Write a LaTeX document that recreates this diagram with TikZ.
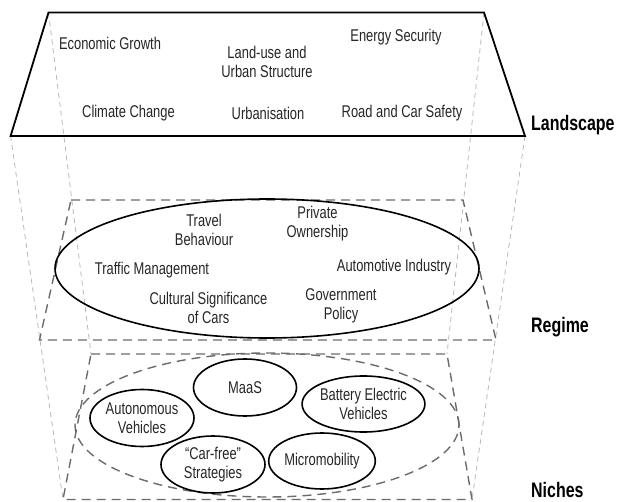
\documentclass[tikz,border=0pt]{standalone}
\usepackage{fontspec}
\setmainfont{Liberation Sans}[FakeStretch=0.76]
\usetikzlibrary{shapes.geometric}
\begin{document}
\begin{tikzpicture}[x=1pt,y=-1pt,
  txt/.style={font=\fontsize{17}{19}\selectfont, align=center, text=black!85, inner sep=0pt},
  lbl/.style={font=\fontsize{21}{22}\selectfont\bfseries, anchor=west, inner sep=0pt},
  frame/.style={draw=black, line width=1.8pt, line join=miter},
  light/.style={draw=black!28, line width=0.8pt, dash pattern=on 5pt off 4pt},
  dark/.style={draw=black!58, line width=1.4pt, dash pattern=on 9pt off 6pt},
  ring/.style={draw=black, ellipse, line width=1.6pt, inner sep=0pt},
]
\useasboundingbox (0,0) rectangle (618,502);

% corner coordinates
\coordinate (LTL) at (48.5,12.5);
\coordinate (LTR) at (484,12.5);
\coordinate (LBR) at (525,136);
\coordinate (LBL) at (10.6,136);
\coordinate (RTL) at (71,200);
\coordinate (RTR) at (463,200);
\coordinate (RBR) at (496,340);
\coordinate (RBL) at (39.5,340);
\coordinate (NTL) at (91,354);
\coordinate (NTR) at (447,354);
\coordinate (NBR) at (472,499.5);
\coordinate (NBL) at (63,499.5);

% light projection lines
\draw[light] (LTL) -- (NTL);
\draw[light] (LTR) -- (NTR);
\draw[light] (LBL) -- (NBL);
\draw[light] (LBR) -- (NBR);

% landscape plane
\draw[frame] (LTL) -- (LTR) -- (LBR) -- (LBL) -- cycle;
\node[txt] (eco) at (110,43) {Economic Growth};
\node[txt] (land) at (267,61.5) {Land-use and\\Urban Structure};
\node[txt] (energy) at (396,37) {Energy Security};
\node[txt] (climate) at (128.5,113) {Climate Change};
\node[txt] (urban) at (268,113) {Urbanisation};
\node[txt] (road) at (402,113) {Road and Car Safety};
\node[lbl] (landscape) at (531,125) {Landscape};

% regime plane
\draw[dark] (RTL) -- (RTR) -- (RBR) -- (RBL) -- cycle;
\node[ring, minimum width=424pt, minimum height=139pt] (regime) at (267,268.5) {};
\node[txt] (travel) at (204,229.5) {Travel\\Behaviour};
\node[txt] (private) at (317.5,224) {Private\\Ownership};
\node[txt] (traffic) at (152,270) {Traffic Management};
\node[txt] (auto) at (394,267) {Automotive Industry};
\node[txt] (cultural) at (208.5,308) {Cultural Significance\\of Cars};
\node[txt] (gov) at (341,305.5) {Government\\Policy};
\node[lbl] (regimelbl) at (531,327) {Regime};

% niches plane
\draw[dark] (NTL) -- (NTR) -- (NBR) -- (NBL) -- cycle;
\node[draw=black!58, ellipse, line width=1.4pt, dash pattern=on 9pt off 6pt,
      minimum width=384pt, minimum height=144pt] (nichepool) at (267,425) {};
\node[ring, txt, minimum width=103pt, minimum height=57pt] (maas) at (245,387.5) {MaaS};
\node[ring, txt, minimum width=104pt, minimum height=57pt] (av) at (142,418) {Autonomous\\Vehicles};
\node[ring, txt, minimum width=105pt, minimum height=56pt] (bev) at (363.5,404) {Battery Electric\\Vehicles};
\node[ring, txt, minimum width=104pt, minimum height=57pt] (carfree) at (213,464.5) {“Car-free”\\Strategies};
\node[ring, txt, minimum width=104pt, minimum height=56pt] (micro) at (322,461) {Micromobility};
\node[lbl] (nicheslbl) at (531,490) {Niches};
\end{tikzpicture}
\end{document}
